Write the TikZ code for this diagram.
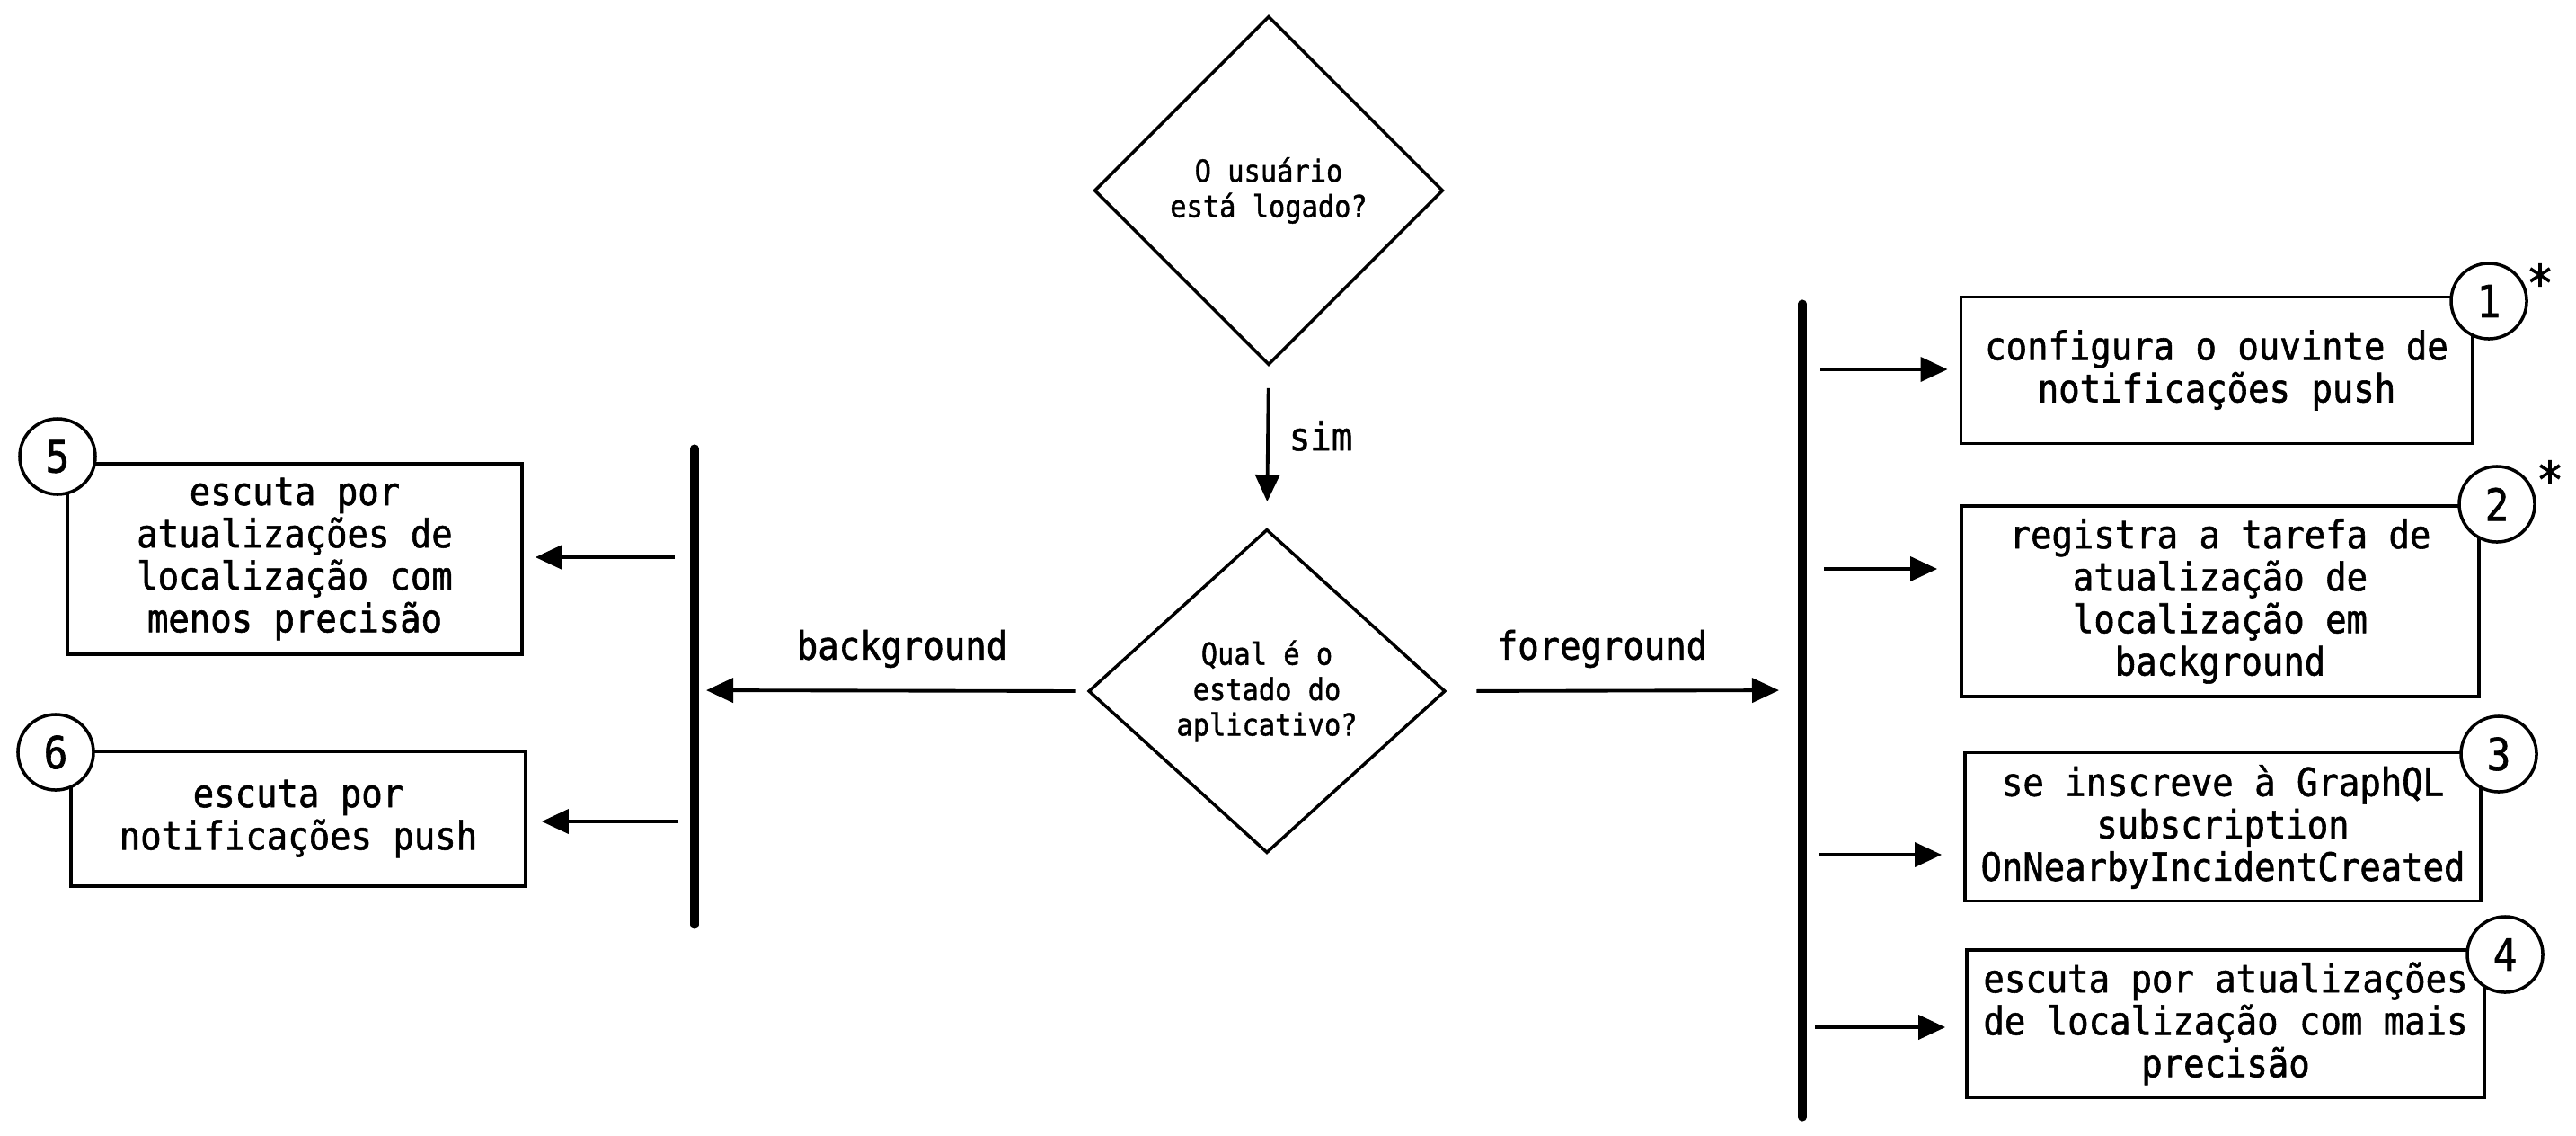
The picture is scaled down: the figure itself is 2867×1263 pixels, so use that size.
\documentclass[tikz,border=0pt]{standalone}
\usepackage{fontspec}
\setmonofont{DejaVu Sans Mono}[FakeStretch=0.9,FakeBold=1.3]
\usetikzlibrary{shapes.geometric,arrows.meta}

\tikzset{
  every node/.style={font=\ttfamily\fontsize{12.3}{13.4}\selectfont},
  box/.style={draw,line width=1pt,align=center,inner sep=0pt},
  question/.style={diamond,draw,line width=1pt,align=center,inner sep=0pt,
    font=\ttfamily\fontsize{9.6}{11.2}\selectfont},
  num/.style={circle,draw,fill=white,line width=1pt,minimum size=0.84cm,
    inner sep=0pt,font=\ttfamily\fontsize{14}{14}\selectfont},
  star/.style={font=\ttfamily\fontsize{16}{16}\selectfont},
  arr/.style={line width=1.1pt,-{Triangle[length=0.3cm,width=0.27cm]}},
  bar/.style={line width=2.6pt,line cap=round}
}

\begin{document}
\begin{tikzpicture}[x=0.01cm,y=-0.01cm]
\useasboundingbox (0,0) rectangle (2867,1263);

% decisoes
\node[question,minimum width=3.88cm,minimum height=3.88cm] (logado) at (1412,212)
  {O usuário\\ está logado?};
\node[question,minimum width=3.97cm,minimum height=3.6cm] (estado) at (1410,769)
  {Qual é o\\estado do\\aplicativo?};

\draw[arr,shorten <=0.24cm,shorten >=0.29cm] (logado.south)--(estado.north);
\node (sim) at (1470,485) {sim};

% barras
\coordinate (dirT) at (2006,338);
\coordinate (dirB) at (2006,1243);
\coordinate (dirM) at (2006,768);
\coordinate (esqT) at (773,499);
\coordinate (esqB) at (773,1029);
\coordinate (esqM) at (773,768);
\draw[bar] (dirT)--(dirB);
\draw[bar] (esqT)--(esqB);

\draw[arr,shorten <=0.33cm,shorten >=0.26cm] (estado.east)--(dirM);
\node (fg) at (1783,722) {foreground};
\draw[arr,shorten <=0.13cm,shorten >=0.13cm] (estado.west)--(esqM);
\node (bg) at (1004,722) {background};

% foreground
\node[box,minimum width=5.69cm,minimum height=1.63cm] (config) at (2467,412)
  {configura o ouvinte de\\ notificações push};
\node[box,minimum width=5.76cm,minimum height=2.12cm] (tarefa) at (2471,669)
  {registra a tarefa de\\atualização de\\localização em\\background};
\node[box,minimum width=5.74cm,minimum height=1.65cm] (inscreve) at (2474,920)
  {se inscreve à GraphQL\\subscription\\OnNearbyIncidentCreated};
\node[box,minimum width=5.76cm,minimum height=1.64cm] (maisprec) at (2477,1139)
  {escuta por atualizações\\de localização com mais\\precisão};

% background
\node[box,minimum width=5.06cm,minimum height=2.12cm] (menosprec) at (328,622)
  {escuta por\\atualizações de\\localização com\\ menos precisão};
\node[box,minimum width=5.06cm,minimum height=1.5cm] (push) at (332,911)
  {escuta por\\notificações push};

% numeros
\node[num] (n1) at (2770,335) {1};
\node[num] (n2) at (2779,561) {2};
\node[num] (n3) at (2781,839) {3};
\node[num] (n4) at (2788,1062) {4};
\node[num] (n5) at (64,508) {5};
\node[num] (n6) at (62,837) {6};
\node[star] (s1) at (2827,314) {*};
\node[star] (s2) at (2838,533) {*};

% setas
\coordinate (d1) at (2006,411);
\coordinate (d2) at (2006,633);
\coordinate (d3) at (2006,951);
\coordinate (d4) at (2006,1143);
\draw[arr,shorten <=0.2cm,shorten >=0.13cm] (d1)--(d1 -| config.west);
\draw[arr,shorten <=0.24cm,shorten >=0.25cm] (d2)--(d2 -| tarefa.west);
\draw[arr,shorten <=0.18cm,shorten >=0.24cm] (d3)--(d3 -| inscreve.west);
\draw[arr,shorten <=0.14cm,shorten >=0.22cm] (d4)--(d4 -| maisprec.west);

\coordinate (e5) at (773,620);
\coordinate (e6) at (773,914);
\draw[arr,shorten <=0.22cm,shorten >=0.13cm] (e5)--(e5 -| menosprec.east);
\draw[arr,shorten <=0.18cm,shorten >=0.16cm] (e6)--(e6 -| push.east);
\end{tikzpicture}
\end{document}
